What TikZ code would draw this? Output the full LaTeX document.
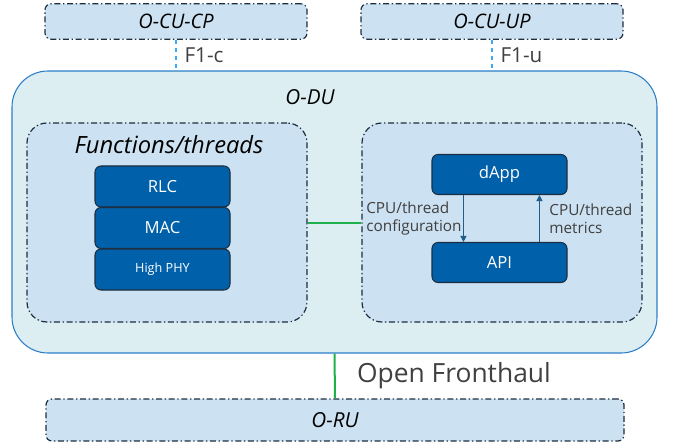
\documentclass[tikz,border=0pt]{standalone}
\usepackage{fontspec}
\setmainfont{Open Sans}
\usetikzlibrary{arrows.meta}

\definecolor{cuFill}{HTML}{CCE1F1}
\definecolor{duFill}{HTML}{DDEEF3}
\definecolor{duLine}{HTML}{2A7FC8}
\definecolor{blockFill}{HTML}{0060A9}
\definecolor{blockLine}{HTML}{1C2E40}
\definecolor{fhGreen}{HTML}{1DB04B}
\definecolor{f1Blue}{HTML}{3FA9F5}
\definecolor{arrowBlue}{HTML}{1F5E8A}
\definecolor{labelGray}{HTML}{404040}

\begin{document}
\begin{tikzpicture}[x=0.75pt, y=-0.75pt,
    dashbox/.style={draw=blockLine, line width=0.9pt, fill=cuFill,
        dash pattern=on 4.5pt off 2pt on 1pt off 2pt, inner sep=0pt},
    unitbox/.style={dashbox, rounded corners=4.5pt, minimum height=26.5pt,
        font=\fontsize{15}{18}\selectfont\itshape},
    groupbox/.style={dashbox, rounded corners=15pt, minimum width=210pt, minimum height=149.25pt},
    block/.style={draw=blockLine, line width=0.8pt, fill=blockFill, text=white,
        rounded corners=4.5pt, minimum width=101.25pt, minimum height=30.75pt, inner sep=0pt,
        font=\fontsize{12.5}{15}\selectfont},
    lbl/.style={text=labelGray, inner sep=1pt},
    flow/.style={draw=arrowBlue, line width=0.8pt, -{Triangle[width=4.5pt, length=4.5pt]}}
]
    \useasboundingbox (0,0) rectangle (673,445);

    % Central units on top
    \node[unitbox, minimum width=196.5pt] (ocucp) at (176,21.5) {O-CU-CP};
    \node[unitbox, minimum width=196.5pt] (ocuup) at (492,21.5) {O-CU-UP};

    % Distributed unit
    \node[draw=duLine, line width=0.8pt, fill=duFill, rounded corners=27pt,
          minimum width=483.75pt, minimum height=211.5pt] (odu) at (334.5,212) {};
    \node[font=\fontsize{15.5}{18}\selectfont\itshape] (odulabel) at (310,97) {O-DU};

    % F1 interfaces
    \draw[f1Blue, line width=0.8pt, dashed] (ocucp.south) -- (ocucp.south |- odu.north)
        node[lbl, midway, right, xshift=5pt, font=\fontsize{15.5}{18}\selectfont] {F1-c};
    \draw[f1Blue, line width=0.8pt, dashed] (ocuup.south) -- (ocuup.south |- odu.north)
        node[lbl, midway, right, xshift=5pt, font=\fontsize{15.5}{18}\selectfont] {F1-u};

    % Left group: protocol stack
    \node[groupbox] (funcbox) at (167,222.5) {};
    \node[font=\fontsize{17.8}{21}\selectfont\itshape] (funclabel) at (169,145) {Functions/threads};
    \node[block] (rlc) at (162.5,186.5) {RLC};
    \node[block] (mac) at (162.5,228) {MAC};
    \node[block, font=\fontsize{9.5}{12}\selectfont] (highphy) at (162.5,269.5) {High PHY};

    % Right group: dApp and API
    \node[groupbox] (dappbox) at (502,222.5) {};
    \node[block, minimum height=30pt] (dapp) at (499.5,174.5) {dApp};
    \node[block, minimum height=30pt] (api) at (499.5,262.5) {API};

    \draw[flow] ([xshift=24pt]dapp.south west) -- ([xshift=24pt]api.north west)
        node[lbl, midway, left, align=left, font=\fontsize{11.5}{13.5}\selectfont] {CPU/thread\\configuration};
    \draw[flow] ([xshift=81pt]api.north west) -- ([xshift=81pt]dapp.south west)
        node[lbl, midway, right, xshift=6pt, align=left, font=\fontsize{11.5}{13.5}\selectfont] {CPU/thread\\metrics};

    \draw[fhGreen, line width=1.5pt] (funcbox.east) -- (dappbox.west);

    % Radio unit and fronthaul
    \node[unitbox, minimum width=433.5pt, minimum height=31.5pt,
          font=\fontsize{15.5}{18}\selectfont\itshape] (oru) at (335,420) {O-RU};
    \draw[fhGreen, line width=1.5pt] (odu.south) -- (oru.north)
        node[lbl, midway, right, xshift=15pt, font=\fontsize{19.8}{23}\selectfont] {Open Fronthaul};
\end{tikzpicture}
\end{document}
